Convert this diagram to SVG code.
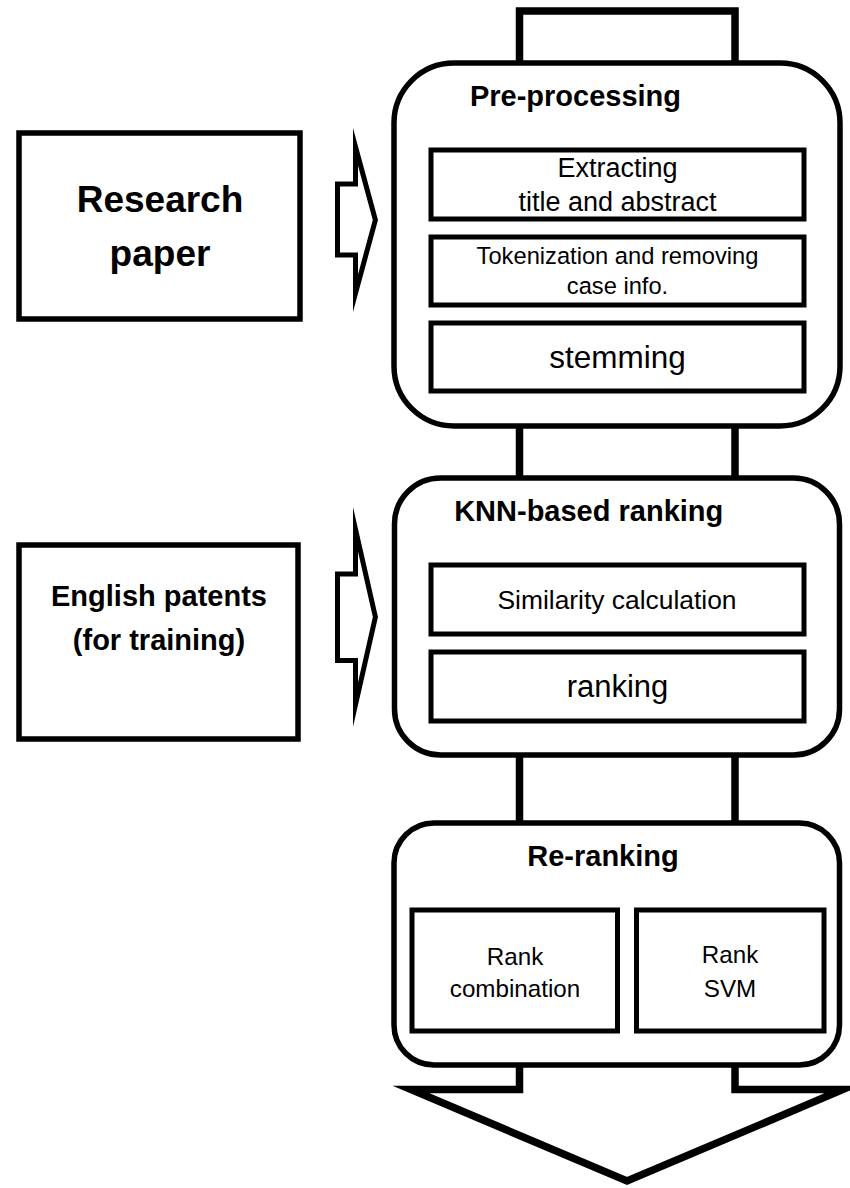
<svg xmlns="http://www.w3.org/2000/svg" width="850" height="1188" viewBox="0 0 850 1188">
  <style>
    .bg { fill: #ffffff; }
    .stage { fill: #ffffff; stroke: #000000; stroke-width: 5.5; }
    .step { fill: #ffffff; stroke: #000000; stroke-width: 5; }
    .src { fill: #ffffff; stroke: #000000; stroke-width: 5.5; }
    .pipe { fill: none; stroke: #000000; stroke-width: 7.5; }
    .pipe-fill { fill: #ffffff; stroke: #000000; stroke-width: 7.5; stroke-miterlimit: 20; }
    .feed { fill: #ffffff; stroke: #000000; stroke-width: 5; stroke-miterlimit: 40; }
    text { font-family: "Liberation Sans", Arial, sans-serif; fill: #000000; text-anchor: middle; }
    .title { font-weight: bold; font-size: 29px; }
    .big { font-weight: bold; font-size: 37px; }
    .label-b { font-weight: bold; font-size: 29px; }
  </style>

  <rect class="bg" x="0" y="0" width="850" height="1188"/>

  <!-- flow pipes and feed arrows -->
  <g id="connectors">
    <!-- inlet pipe at the top -->
    <rect class="pipe" x="519.5" y="11" width="215.5" height="100"/>
    <!-- pipe between pre-processing and KNN ranking -->
    <line class="pipe" x1="519.5" y1="420" x2="519.5" y2="484"/>
    <line class="pipe" x1="735" y1="420" x2="735" y2="484"/>
    <!-- pipe between KNN ranking and re-ranking -->
    <line class="pipe" x1="519.5" y1="750" x2="519.5" y2="829"/>
    <line class="pipe" x1="735" y1="750" x2="735" y2="829"/>
    <!-- output block arrow -->
    <polygon class="pipe-fill" points="519.5,1030 519.5,1089.5 411,1089.5 627,1181 843,1089.5 735,1089.5 735,1030"/>
    <!-- feed arrow from research paper -->
    <polygon class="feed" points="337.5,184 355.5,184 355.5,146.8 375.4,220 355.5,293.2 355.5,255 337.5,255"/>
    <!-- feed arrow from English patents -->
    <polygon class="feed" points="337.5,574 355.5,574 355.5,529.3 375.4,617 355.5,704.7 355.5,660.5 337.5,660.5"/>
  </g>

  <!-- input: research paper -->
  <g id="research-paper">
    <rect class="src" x="19" y="133" width="281" height="186"/>
    <text class="big" x="160" y="212">Research</text>
    <text class="big" x="160" y="266">paper</text>
  </g>

  <!-- input: training patents -->
  <g id="english-patents">
    <rect class="src" x="19" y="545" width="279" height="194"/>
    <text class="label-b" x="159" y="606">English patents</text>
    <text class="label-b" x="159" y="650">(for training)</text>
  </g>

  <!-- stage 1 -->
  <g id="pre-processing">
    <rect class="stage" x="394" y="63" width="446" height="363" rx="60" ry="60"/>
    <text class="title" x="575.5" y="106">Pre-processing</text>
    <g id="extracting">
      <rect class="step" x="431" y="150" width="373" height="69"/>
      <text x="617.5" y="177" font-size="27">Extracting</text>
      <text x="617.5" y="211" font-size="27">title and abstract</text>
    </g>
    <g id="tokenization">
      <rect class="step" x="431" y="237" width="373" height="68"/>
      <text x="617.5" y="264" font-size="23.7">Tokenization and removing</text>
      <text x="617.5" y="294" font-size="23.7">case info.</text>
    </g>
    <g id="stemming">
      <rect class="step" x="431" y="323" width="373" height="68"/>
      <text x="617.5" y="368" font-size="31.5">stemming</text>
    </g>
  </g>

  <!-- stage 2 -->
  <g id="knn-ranking">
    <rect class="stage" x="394.5" y="478" width="445" height="277" rx="46" ry="46"/>
    <text class="title" x="588.7" y="521">KNN-based ranking</text>
    <g id="similarity">
      <rect class="step" x="431" y="565" width="373" height="69"/>
      <text x="617" y="609" font-size="26.4">Similarity calculation</text>
    </g>
    <g id="ranking">
      <rect class="step" x="431" y="652" width="373" height="69"/>
      <text x="617.5" y="697" font-size="31">ranking</text>
    </g>
  </g>

  <!-- stage 3 -->
  <g id="re-ranking">
    <rect class="stage" x="394" y="823" width="445.5" height="242" rx="40" ry="40"/>
    <text class="title" x="603" y="866">Re-ranking</text>
    <g id="rank-combination">
      <rect class="step" x="412" y="910" width="205.5" height="121"/>
      <text x="515" y="965" font-size="24.2">Rank</text>
      <text x="515" y="997" font-size="24.2">combination</text>
    </g>
    <g id="rank-svm">
      <rect class="step" x="636.5" y="910" width="187.5" height="121"/>
      <text x="730" y="963" font-size="24.2">Rank</text>
      <text x="730" y="997" font-size="24.2">SVM</text>
    </g>
  </g>
</svg>
